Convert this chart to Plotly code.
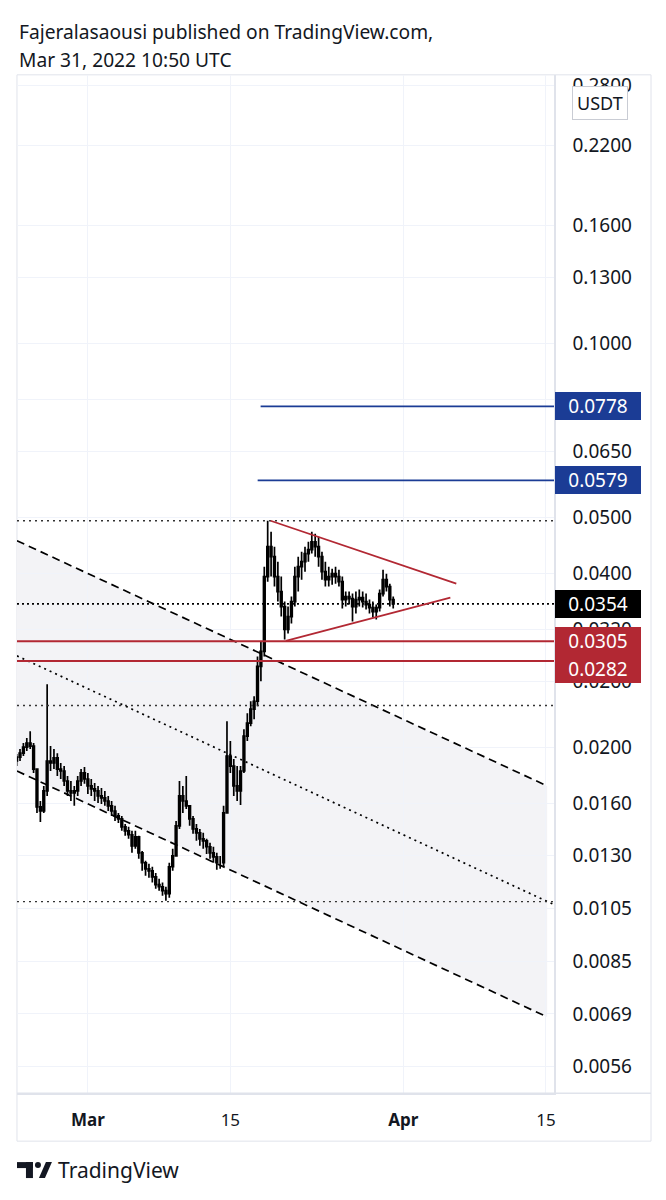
import numpy as np
import pandas as pd
import plotly.graph_objects as go

# ---------------- data ----------------
candle_start = "2022-02-22 00:00"
candle_freq = "8h"
first_open = 0.01892

highs = [0.01945, 0.01984, 0.02032, 0.02073, 0.02131, 0.02032, 0.01832, 0.01613, 0.01713, 0.02569,
         0.02008, 0.01984, 0.01952, 0.01877, 0.01854, 0.01782, 0.01747, 0.01713, 0.01782, 0.01832,
         0.01847, 0.01804, 0.01761, 0.01733, 0.01713, 0.01699, 0.01679, 0.01646, 0.01613, 0.01582,
         0.01538, 0.01520, 0.01472, 0.01455, 0.01432, 0.01432, 0.01404, 0.01322, 0.01271, 0.01256,
         0.01241, 0.01211, 0.01183, 0.01165, 0.01146, 0.01261, 0.01333, 0.01490, 0.01747, 0.01713,
         0.01782, 0.01582, 0.01520, 0.01472, 0.01443, 0.01421, 0.01387, 0.01365, 0.01344, 0.01312,
         0.01296, 0.01582, 0.02217, 0.02048, 0.01907, 0.01854, 0.01854, 0.02148, 0.02289, 0.02401,
         0.02449, 0.02871, 0.03047, 0.04106, 0.04931, 0.04719, 0.04446, 0.04189, 0.03946, 0.03572,
         0.03502, 0.03644, 0.04106, 0.04273, 0.04359, 0.04446, 0.04535, 0.04719, 0.04681, 0.04626,
         0.04359, 0.04189, 0.04106, 0.04073, 0.04106, 0.04057, 0.03946, 0.03717, 0.03717, 0.03688,
         0.03717, 0.03747, 0.03717, 0.03688, 0.03601, 0.03572, 0.03530, 0.03747, 0.04057, 0.03993,
         0.03837, 0.03644]

lows = [0.01854, 0.01892, 0.01930, 0.01968, 0.01984, 0.01804, 0.01538, 0.01484, 0.01538, 0.01646,
        0.01818, 0.01832, 0.01782, 0.01761, 0.01713, 0.01646, 0.01613, 0.01582, 0.01646, 0.01713,
        0.01727, 0.01659, 0.01646, 0.01613, 0.01600, 0.01594, 0.01582, 0.01550, 0.01520, 0.01490,
        0.01478, 0.01432, 0.01404, 0.01387, 0.01312, 0.01333, 0.01281, 0.01221, 0.01197, 0.01188,
        0.01165, 0.01137, 0.01128, 0.01106, 0.01084, 0.01097, 0.01221, 0.01296, 0.01443, 0.01538,
        0.01563, 0.01461, 0.01415, 0.01376, 0.01349, 0.01333, 0.01306, 0.01281, 0.01261, 0.01226,
        0.01231, 0.01241, 0.01538, 0.01804, 0.01646, 0.01613, 0.01588, 0.01804, 0.02048, 0.02174,
        0.02235, 0.02354, 0.02600, 0.02871, 0.03868, 0.03946, 0.03792, 0.03572, 0.03365, 0.03071,
        0.03146, 0.03273, 0.03502, 0.03717, 0.03899, 0.04025, 0.04189, 0.04325, 0.04273, 0.04106,
        0.03899, 0.03792, 0.03792, 0.03822, 0.03837, 0.03792, 0.03474, 0.03502, 0.03530, 0.03299,
        0.03406, 0.03502, 0.03488, 0.03461, 0.03406, 0.03352, 0.03325, 0.03433, 0.03644, 0.03717,
        0.03502, 0.03474]

closes = [0.01922, 0.01952, 0.02000, 0.02032, 0.02008, 0.01832, 0.01576, 0.01550, 0.01679, 0.01892,
          0.01877, 0.01915, 0.01832, 0.01818, 0.01747, 0.01679, 0.01666, 0.01679, 0.01747, 0.01804,
          0.01761, 0.01713, 0.01693, 0.01679, 0.01646, 0.01633, 0.01613, 0.01582, 0.01550, 0.01520,
          0.01502, 0.01455, 0.01432, 0.01410, 0.01349, 0.01398, 0.01312, 0.01261, 0.01231, 0.01221,
          0.01192, 0.01156, 0.01146, 0.01128, 0.01115, 0.01241, 0.01296, 0.01461, 0.01646, 0.01613,
          0.01582, 0.01502, 0.01443, 0.01421, 0.01387, 0.01376, 0.01344, 0.01312, 0.01291, 0.01261,
          0.01261, 0.01538, 0.01930, 0.01854, 0.01713, 0.01679, 0.01818, 0.02089, 0.02200, 0.02326,
          0.02401, 0.02759, 0.02928, 0.03946, 0.04446, 0.04273, 0.03946, 0.03717, 0.03502, 0.03196,
          0.03365, 0.03572, 0.03946, 0.04106, 0.04189, 0.04325, 0.04393, 0.04535, 0.04446, 0.04273,
          0.04025, 0.03899, 0.03946, 0.03993, 0.03946, 0.03868, 0.03601, 0.03644, 0.03615, 0.03502,
          0.03601, 0.03630, 0.03572, 0.03530, 0.03488, 0.03433, 0.03488, 0.03688, 0.03899, 0.03792,
          0.03601, 0.03540]

opens = [first_open] + closes[:-1]
dates = pd.date_range(candle_start, periods=len(closes), freq=candle_freq)

# view window
x_left = "2022-02-22 00:50"
x_right = "2022-04-15 19:30"

# axis ticks
y_ticks = [0.28, 0.22, 0.16, 0.13, 0.10, 0.08, 0.065, 0.05, 0.04, 0.032, 0.026,
           0.02, 0.016, 0.013, 0.0105, 0.0085, 0.0069, 0.0056]
y_tick_text = [f"{v:.4f}" for v in y_ticks]
x_ticks = ["2022-03-01", "2022-03-15", "2022-04-01", "2022-04-15"]
x_tick_text = ["<b>Mar</b>", "15", "<b>Apr</b>", "15"]

# drawings
channel_x = [x_left, "2022-04-15 03:00"]
channel_upper = [0.04553, 0.01713]
channel_lower = [0.01818, 0.006818]
channel_mid_x = [x_left, x_right]
channel_mid = [0.02877, 0.01067]

tri_upper_x = ["2022-03-18 22:50", "2022-04-06 04:45"]
tri_upper_y = [0.04931, 0.03837]
tri_lower_x = ["2022-03-20 10:50", "2022-04-05 14:40"]
tri_lower_y = [0.03055, 0.03630]

dotted_levels = [0.0493, 0.0236, 0.0108]
last_price = 0.0354
red_levels = [0.0305, 0.0282]
blue_levels = [0.0778, 0.0579]
blue_starts = ["2022-03-17 23:20", "2022-03-17 16:20"]

RED = "#b22833"
BLUE = "#1b3c95"
TXT = "#131722"
BORDER = "#e0e3eb"
GRID = "#f0f3fa"
FONT = "Noto Sans"

W, H = 666, 1200
def px(x):
    return x / W
def py(y):
    return 1 - y / H
def pdate(s):
    return s.replace(" ", "_")

fig = go.Figure()

# channel lines
for yy in (channel_upper, channel_lower):
    fig.add_trace(go.Scatter(x=channel_x, y=yy, mode="lines",
                             line=dict(color="#000000", width=1.7, dash="8px,5px"),
                             hoverinfo="skip"))
fig.add_trace(go.Scatter(x=channel_mid_x, y=channel_mid, mode="lines",
                         line=dict(color="#000000", width=1.7, dash="2px,4px"),
                         hoverinfo="skip"))

# dotted horizontal levels
for lv in dotted_levels:
    fig.add_trace(go.Scatter(x=[x_left, x_right], y=[lv, lv], mode="lines",
                             line=dict(color="#333333", width=1.4, dash="2px,4px"),
                             hoverinfo="skip"))
fig.add_trace(go.Scatter(x=[x_left, x_right], y=[last_price, last_price], mode="lines",
                         line=dict(color="#000000", width=1.8, dash="2px,3px"),
                         hoverinfo="skip"))

# red support lines
for lv in red_levels:
    fig.add_trace(go.Scatter(x=[x_left, x_right], y=[lv, lv], mode="lines",
                             line=dict(color=RED, width=2), hoverinfo="skip"))
# blue target lines
for lv, xs in zip(blue_levels, blue_starts):
    fig.add_trace(go.Scatter(x=[xs, x_right], y=[lv, lv], mode="lines",
                             line=dict(color=BLUE, width=1.8), hoverinfo="skip"))
# triangle
fig.add_trace(go.Scatter(x=tri_upper_x, y=tri_upper_y, mode="lines",
                         line=dict(color=RED, width=1.8), hoverinfo="skip"))
fig.add_trace(go.Scatter(x=tri_lower_x, y=tri_lower_y, mode="lines",
                         line=dict(color=RED, width=1.8), hoverinfo="skip"))

# candles
fig.add_trace(go.Candlestick(
    x=dates, open=opens, high=highs, low=lows, close=closes,
    increasing=dict(line=dict(color="#000000", width=1.7), fillcolor="#000000"),
    decreasing=dict(line=dict(color="#000000", width=1.7), fillcolor="#000000"),
    whiskerwidth=0, hoverinfo="skip"))

annotations = [
    dict(text="Fajeralasaousi published on TradingView.com,", x=px(17), y=py(29),
         xref="paper", yref="paper", xanchor="left", yanchor="middle", showarrow=False,
         font=dict(family=FONT, size=19.2, color=TXT)),
    dict(text="Mar 31, 2022 10:50 UTC", x=px(17), y=py(57),
         xref="paper", yref="paper", xanchor="left", yanchor="middle", showarrow=False,
         font=dict(family=FONT, size=19.2, color=TXT)),
    dict(text="USDT", x=px(601), y=py(100), xref="paper", yref="paper",
         xanchor="center", yanchor="middle", showarrow=False,
         font=dict(family=FONT, size=18, color=TXT), bgcolor="white",
         bordercolor="#c9ccd4", borderwidth=1, borderpad=4),
    dict(text="TradingView", x=px(56), y=py(1170), xref="paper", yref="paper",
         xanchor="left", yanchor="middle", showarrow=False,
         font=dict(family=FONT, size=21, color=TXT)),
]

price_labels = [(0.0778, BLUE, 0), (0.0579, BLUE, 0), (last_price, "#000000", 0),
                (0.0305, RED, 0), (0.0282, RED, -8)]
for val, col, shift in price_labels:
    annotations.append(dict(
        text=f"{val:.4f}", x=px(556), y=np.log10(val), xref="paper", yref="y",
        xanchor="left", yanchor="middle", yshift=shift, showarrow=False,
        font=dict(family=FONT, size=19, color="white"), bgcolor=col,
        bordercolor=col, borderwidth=0, borderpad=2, width=82, height=24, align="center"))

shapes = [
    # channel fill (below the candles)
    dict(type="path", xref="x", yref="y", layer="below",
         path=(f"M {pdate(channel_x[0])},{channel_upper[0]} L {pdate(channel_x[1])},{channel_upper[1]} "
               f"L {pdate(channel_x[1])},{channel_lower[1]} L {pdate(channel_x[0])},{channel_lower[0]} Z"),
         fillcolor="#f3f3f6", line=dict(width=0)),
    # outer frame
    dict(type="rect", xref="paper", yref="paper", x0=px(17), x1=px(652), y0=py(1141), y1=py(72),
         line=dict(color=BORDER, width=1), layer="below"),
    # time axis separator across the price scale
    dict(type="line", xref="paper", yref="paper", x0=px(17), x1=px(652), y0=py(1093), y1=py(1093),
         line=dict(color=BORDER, width=1.5)),
    # logo
    dict(type="rect", xref="paper", yref="paper", x0=px(17), x1=px(33), y0=py(1168), y1=py(1162),
         fillcolor=TXT, line=dict(width=0)),
    dict(type="rect", xref="paper", yref="paper", x0=px(26), x1=px(33), y0=py(1178), y1=py(1162),
         fillcolor=TXT, line=dict(width=0)),
    dict(type="circle", xref="paper", yref="paper", x0=px(35), x1=px(41), y0=py(1168), y1=py(1162),
         fillcolor=TXT, line=dict(width=0)),
    dict(type="path", xref="paper", yref="paper",
         path=f"M {px(39)} {py(1178)} L {px(45)} {py(1178)} L {px(52)} {py(1162)} L {px(46)} {py(1162)} Z",
         fillcolor=TXT, line=dict(width=0)),
]

fig.update_layout(
    width=W, height=H, margin=dict(l=0, r=0, t=0, b=0),
    paper_bgcolor="white", plot_bgcolor="white", showlegend=False,
    font=dict(family=FONT, color=TXT),
    annotations=annotations, shapes=shapes,
    xaxis=dict(type="date", domain=[px(17), px(555)], range=[x_left, x_right],
               tickvals=x_ticks, ticktext=x_tick_text, ticks="", ticklabelstandoff=11,
               tickfont=dict(family=FONT, size=17, color=TXT),
               showgrid=True, gridcolor=GRID, gridwidth=1, zeroline=False,
               showline=True, linecolor=BORDER, linewidth=1.5,
               rangeslider=dict(visible=False), fixedrange=True),
    yaxis=dict(type="log", side="right", domain=[py(1093), py(72)],
               range=[-2.29844, -0.53495], tickvals=y_ticks, ticktext=y_tick_text,
               ticks="", ticklabelstandoff=13,
               tickfont=dict(family=FONT, size=19, color=TXT),
               showgrid=True, gridcolor=GRID, gridwidth=1, zeroline=False,
               showline=True, linecolor=BORDER, linewidth=1.5, fixedrange=True),
)

fig.write_html("out.html", config={"displayModeBar": False, "staticPlot": True},
               post_script="document.body.style.margin='0px';")
